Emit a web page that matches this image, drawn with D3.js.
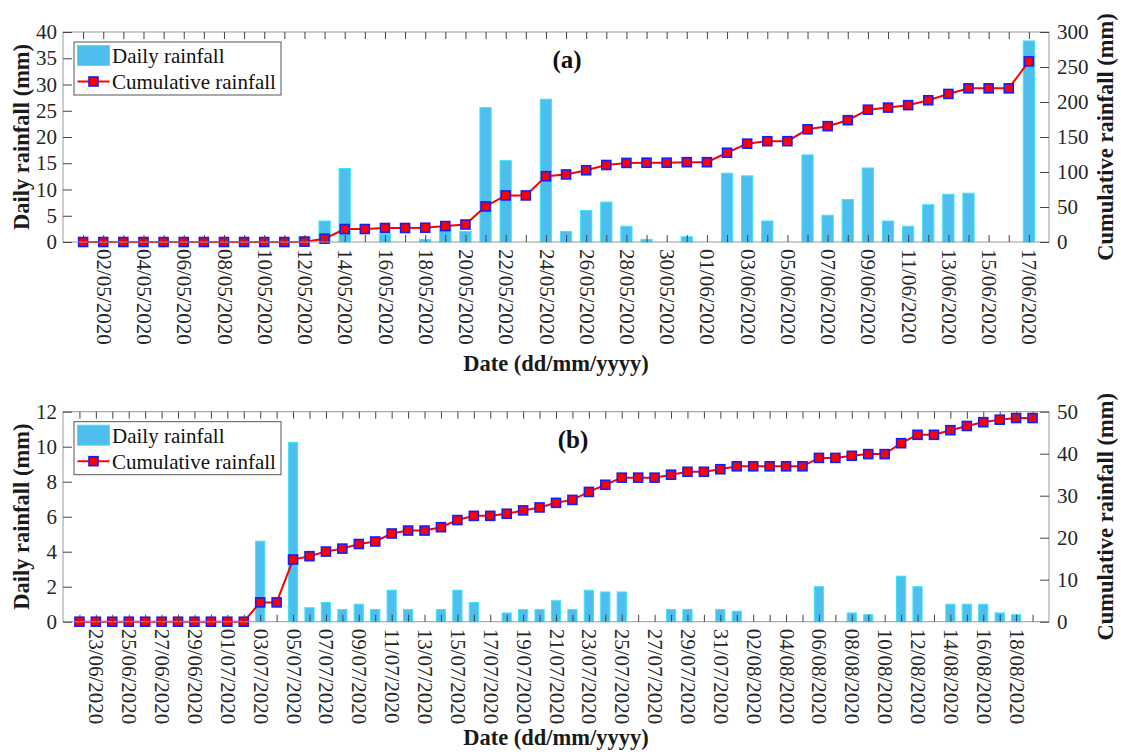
<!DOCTYPE html>
<html>
<head>
<meta charset="utf-8">
<script src="https://cdn.jsdelivr.net/npm/d3@7"></script>
<style>
  body { margin: 0; background: #fff; }
  svg { display: block; }
</style>
</head>
<body>
<div id="chart"></div>
<script>
// ---- panel (a): 01/05/2020 .. 17/06/2020
const datesA = [
  '01/05/2020','02/05/2020','03/05/2020','04/05/2020','05/05/2020','06/05/2020','07/05/2020','08/05/2020',
  '09/05/2020','10/05/2020','11/05/2020','12/05/2020','13/05/2020','14/05/2020','15/05/2020','16/05/2020',
  '17/05/2020','18/05/2020','19/05/2020','20/05/2020','21/05/2020','22/05/2020','23/05/2020','24/05/2020',
  '25/05/2020','26/05/2020','27/05/2020','28/05/2020','29/05/2020','30/05/2020','31/05/2020','01/06/2020',
  '02/06/2020','03/06/2020','04/06/2020','05/06/2020','06/06/2020','07/06/2020','08/06/2020','09/06/2020',
  '10/06/2020','11/06/2020','12/06/2020','13/06/2020','14/06/2020','15/06/2020','16/06/2020','17/06/2020'
];
const dailyA = [
  0, 0, 0, 0, 0, 0, 0, 0, 0, 0, 0, 1, 4, 14, 0, 1.5,
  0, 0.5, 3, 2, 25.6, 15.5, 0, 27.2, 2, 6, 7.6, 3, 0.5, 0, 1, 0,
  13.1, 12.6, 4, 0, 16.6, 5.1, 8.1, 14.1, 4, 3, 7.1, 9.1, 9.3, 0, 0, 38.3
];
const cumA = [
  0, 0, 0, 0, 0, 0, 0, 0, 0, 0, 0, 0.5, 4.7, 18.5, 18.5, 20,
  20, 20.4, 22.8, 25, 50.8, 66.5, 66.5, 94, 96.5, 102.5, 110, 113, 113.3, 113.3, 114, 114,
  127.5, 140.5, 144, 144, 161, 165.5, 174, 189, 192, 195.5, 202.5, 211.5, 219.5, 219.5, 219.5, 258
];
const leftTicksA = [0, 5, 10, 15, 20, 25, 30, 35, 40];
const rightTicksA = [0, 50, 100, 150, 200, 250, 300];

// ---- panel (b): 22/06/2020 .. 19/08/2020
const datesB = [
  '22/06/2020','23/06/2020','24/06/2020','25/06/2020','26/06/2020','27/06/2020','28/06/2020','29/06/2020',
  '30/06/2020','01/07/2020','02/07/2020','03/07/2020','04/07/2020','05/07/2020','06/07/2020','07/07/2020',
  '08/07/2020','09/07/2020','10/07/2020','11/07/2020','12/07/2020','13/07/2020','14/07/2020','15/07/2020',
  '16/07/2020','17/07/2020','18/07/2020','19/07/2020','20/07/2020','21/07/2020','22/07/2020','23/07/2020',
  '24/07/2020','25/07/2020','26/07/2020','27/07/2020','28/07/2020','29/07/2020','30/07/2020','31/07/2020',
  '01/08/2020','02/08/2020','03/08/2020','04/08/2020','05/08/2020','06/08/2020','07/08/2020','08/08/2020',
  '09/08/2020','10/08/2020','11/08/2020','12/08/2020','13/08/2020','14/08/2020','15/08/2020','16/08/2020',
  '17/08/2020','18/08/2020','19/08/2020'
];
const dailyB = [
  0, 0, 0, 0, 0, 0, 0, 0, 0, 0, 0, 4.6, 0, 10.25, 0.8, 1.1,
  0.7, 1.0, 0.7, 1.8, 0.7, 0, 0.7, 1.8, 1.1, 0, 0.5, 0.7, 0.7, 1.2, 0.7, 1.8,
  1.7, 1.7, 0, 0, 0.7, 0.7, 0, 0.7, 0.6, 0, 0, 0, 0, 2.0, 0, 0.5,
  0.4, 0, 2.6, 2.0, 0, 1.0, 1.0, 1.0, 0.5, 0.4, 0
];
const cumB = [
  0, 0, 0, 0, 0, 0, 0, 0, 0, 0, 0, 4.6, 4.6, 14.8, 15.6, 16.7,
  17.4, 18.5, 19.1, 21.0, 21.7, 21.7, 22.5, 24.2, 25.2, 25.2, 25.7, 26.5, 27.2, 28.3, 29.0, 30.9,
  32.6, 34.3, 34.3, 34.3, 35.0, 35.7, 35.7, 36.3, 37.0, 37.0, 37.0, 37.0, 37.0, 39.0, 39.0, 39.5,
  39.9, 39.9, 42.5, 44.5, 44.5, 45.6, 46.6, 47.5, 48.1, 48.5, 48.5
];
const leftTicksB = [0, 2, 4, 6, 8, 10, 12];
const rightTicksB = [0, 10, 20, 30, 40, 50];

const W = 1121, H = 756;
const axLeft = 63, axRight = 1049;
const serif = "'Times New Roman', 'Liberation Serif', Tinos, 'DejaVu Serif', serif";

const svg = d3.select('#chart').append('svg')
  .attr('width', W).attr('height', H)
  .attr('viewBox', `0 0 ${W} ${H}`)
  .style('font-family', serif);

function drawPanel(o) {
  const g = svg.append('g');
  const dates = o.dates;

  const x = d3.scalePoint()
    .domain(dates)
    .range([axLeft, axRight])
    .padding(1);
  const step = x.step();

  const yL = d3.scaleLinear().domain(o.leftDomain).range([o.bottom, o.top]);
  const yR = d3.scaleLinear().domain(o.rightDomain).range([o.bottom, o.top]);

  // bars
  const barW = step * 0.56;
  g.selectAll('.bar')
    .data(dates.map((d, i) => ({ d, v: o.daily[i] })).filter(r => r.v > 0))
    .join('rect')
    .attr('class', 'bar')
    .attr('x', r => x(r.d) - barW / 2)
    .attr('width', barW)
    .attr('y', r => yL(r.v))
    .attr('height', r => yL(0) - yL(r.v))
    .attr('fill', '#4DBEEE')
    .attr('stroke', '#3ee6f4')
    .attr('stroke-width', 1);

  // cumulative line
  const line = d3.line()
    .x((v, i) => x(dates[i]))
    .y(v => yR(v));
  g.append('path')
    .datum(o.cum)
    .attr('d', line)
    .attr('fill', 'none')
    .attr('stroke', '#ff0000')
    .attr('stroke-width', 2);

  g.selectAll('.mk')
    .data(o.cum)
    .join('rect')
    .attr('class', 'mk')
    .attr('x', (v, i) => x(dates[i]) - 4.5)
    .attr('y', v => yR(v) - 4.5)
    .attr('width', 9)
    .attr('height', 9)
    .attr('fill', '#ff0000')
    .attr('stroke', '#1a1aff')
    .attr('stroke-width', 1.6);

  // frame
  g.append('rect')
    .attr('x', axLeft).attr('y', o.top)
    .attr('width', axRight - axLeft).attr('height', o.bottom - o.top)
    .attr('fill', 'none')
    .attr('stroke', '#9a9a9a')
    .attr('stroke-width', 1);

  // x axes (ticks inward, top and bottom)
  const xb = g.append('g')
    .attr('transform', `translate(0,${o.bottom})`)
    .call(d3.axisBottom(x).tickSizeInner(-7).tickSizeOuter(0)
      .tickFormat((d, i) => i % 2 === 1 ? d : ''));
  xb.select('.domain').remove();
  xb.selectAll('line').attr('stroke', '#444');
  xb.selectAll('text')
    .attr('transform', 'rotate(90)')
    .attr('x', 7).attr('y', 0).attr('dy', '0.33em')
    .attr('text-anchor', 'start')
    .attr('font-family', serif)
    .attr('font-size', 21)
    .attr('fill', '#262626');

  const xt = g.append('g')
    .attr('transform', `translate(0,${o.top})`)
    .call(d3.axisTop(x).tickSizeInner(-7).tickSizeOuter(0).tickFormat(''));
  xt.select('.domain').remove();
  xt.selectAll('line').attr('stroke', '#444');

  // left y axis
  const al = g.append('g')
    .attr('transform', `translate(${axLeft},0)`)
    .call(d3.axisLeft(yL).tickValues(o.leftTicks).tickSizeInner(-9).tickSizeOuter(0).tickPadding(6));
  al.select('.domain').remove();
  al.selectAll('line').attr('stroke', '#444');
  al.selectAll('text')
    .attr('font-family', serif).attr('font-size', 21).attr('fill', '#262626');

  // right y axis
  const ar = g.append('g')
    .attr('transform', `translate(${axRight},0)`)
    .call(d3.axisRight(yR).tickValues(o.rightTicks).tickSizeInner(-9).tickSizeOuter(0).tickPadding(8));
  ar.select('.domain').remove();
  ar.selectAll('line').attr('stroke', '#444');
  ar.selectAll('text')
    .attr('font-family', serif).attr('font-size', 21).attr('fill', '#262626');

  const midY = (o.top + o.bottom) / 2;

  // axis titles
  g.append('text')
    .attr('transform', `translate(29,${midY}) rotate(-90)`)
    .attr('text-anchor', 'middle')
    .attr('font-family', serif).attr('font-weight', 'bold').attr('font-size', 22.5)
    .attr('fill', '#1a1a1a')
    .text('Daily rainfall (mm)');

  g.append('text')
    .attr('transform', `translate(1113,${midY}) rotate(-90)`)
    .attr('text-anchor', 'middle')
    .attr('font-family', serif).attr('font-weight', 'bold').attr('font-size', 22.5)
    .attr('fill', '#1a1a1a')
    .text('Cumulative rainfall (mm)');

  g.append('text')
    .attr('x', (axLeft + axRight) / 2)
    .attr('y', o.xLabelY)
    .attr('text-anchor', 'middle')
    .attr('font-family', serif).attr('font-weight', 'bold').attr('font-size', 22.5)
    .attr('fill', '#1a1a1a')
    .text('Date (dd/mm/yyyy)');

  // panel tag
  g.append('text')
    .attr('x', o.tagX)
    .attr('y', o.top + 36)
    .attr('text-anchor', 'middle')
    .attr('font-family', serif).attr('font-weight', 'bold').attr('font-size', 25)
    .attr('fill', '#111')
    .text(o.tag);

  // legend
  const lg = g.append('g').attr('transform', `translate(74,${o.top + 10})`);
  lg.append('rect')
    .attr('width', 207).attr('height', 53)
    .attr('fill', '#fff').attr('stroke', '#555').attr('stroke-width', 1);
  lg.append('rect')
    .attr('x', 3.5).attr('y', 3.5).attr('width', 32).attr('height', 20)
    .attr('fill', '#4DBEEE').attr('stroke', '#3ee6f4');
  lg.append('text')
    .attr('x', 38).attr('y', 21)
    .attr('font-family', serif).attr('font-size', 21).attr('fill', '#111')
    .text('Daily rainfall');
  lg.append('line')
    .attr('x1', 3.5).attr('x2', 35.5).attr('y1', 39.5).attr('y2', 39.5)
    .attr('stroke', '#ff0000').attr('stroke-width', 2);
  lg.append('rect')
    .attr('x', 19.5 - 4.5).attr('y', 39.5 - 4.5).attr('width', 9).attr('height', 9)
    .attr('fill', '#ff0000').attr('stroke', '#1a1aff').attr('stroke-width', 1.6);
  lg.append('text')
    .attr('x', 38).attr('y', 47)
    .attr('font-family', serif).attr('font-size', 21).attr('fill', '#111')
    .text('Cumulative rainfall');
}

drawPanel({
  dates: datesA, daily: dailyA, cum: cumA,
  leftDomain: [0, 40], rightDomain: [0, 300],
  leftTicks: leftTicksA, rightTicks: rightTicksA,
  top: 32, bottom: 242, xLabelY: 371, tag: '(a)', tagX: 567
});

drawPanel({
  dates: datesB, daily: dailyB, cum: cumB,
  leftDomain: [0, 12], rightDomain: [0, 50],
  leftTicks: leftTicksB, rightTicks: rightTicksB,
  top: 411.7, bottom: 621.7, xLabelY: 745, tag: '(b)', tagX: 573
});
</script>
</body>
</html>
